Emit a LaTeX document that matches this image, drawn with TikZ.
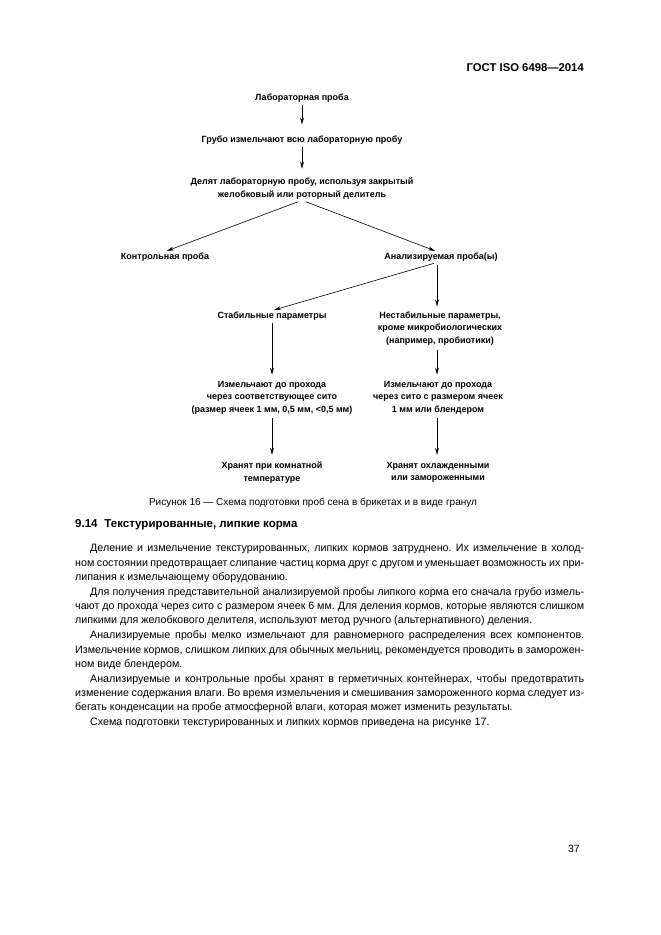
\documentclass[tikz,border=0pt]{standalone}
\usepackage{fontspec}
\setmainfont{Liberation Sans}
\usetikzlibrary{arrows.meta}
\frenchspacing
\begin{document}
\begin{tikzpicture}[x=1pt,y=-1pt,
  box/.style={font=\fontsize{9}{12.6}\selectfont\bfseries, align=center, inner sep=1pt},
  arr/.style={-{Stealth[length=7pt,width=3.8pt]}, line width=0.6pt},
  bodyline/.style={anchor=west, inner sep=0pt, font=\fontsize{10.7}{14}\selectfont, text height=8pt, text depth=2.5pt},
  hdr/.style={inner sep=0pt, font=\fontsize{11.3}{13}\selectfont\bfseries},
]
\useasboundingbox[fill=white] (0,0) rectangle (661,935);

% header
\node[hdr, anchor=east] (head) at (584,68) {ГОСТ ISO 6498—2014};

% diagram
\node[box] (lab) at (302,98) {Лабораторная проба};
\node[box] (grub) at (302,140) {Грубо измельчают всю лабораторную пробу};
\node[box] (delyat) at (302,188.5) {Делят лабораторную пробу, используя закрытый\\желобковый или роторный делитель};
\node[box] (kontr) at (165,257) {Контрольная проба};
\node[box] (anal) at (441,257) {Анализируемая проба(ы)};
\node[box] (stab) at (272,316) {Стабильные параметры};
\node[box] (nestab) at (440,328.5) {Нестабильные параметры,\\кроме микробиологических\\(например, пробиотики)};
\node[box] (izma) at (272,397.5) {Измельчают до прохода\\через соответствующее сито\\(размер ячеек 1 мм, 0,5 мм, <0,5 мм)};
\node[box] (izmb) at (438,397.5) {Измельчают до прохода\\через сито с размером ячеек\\1 мм или блендером};
\node[box] (hra) at (272,472.5) {Хранят при комнатной\\температуре};
\node[box] (hrb) at (438,472.5) {Хранят охлажденными\\или замороженными};

\draw[arr, shorten <=2pt, shorten >=10pt] (lab) -- (grub);
\draw[arr, shorten <=2pt, shorten >=8pt] (grub) -- (delyat);
\draw[arr, shorten <=4pt, shorten >=2pt] (delyat.south) -- (kontr.north);
\draw[arr, shorten <=4pt, shorten >=2pt] (delyat.south) -- ([xshift=-4pt]anal.north);
\draw[arr, shorten <=3pt, shorten >=2pt] ([xshift=-4pt]anal.south) -- (stab.north);
\draw[arr, shorten <=3pt, shorten >=4pt] ([xshift=-4pt]anal.south) -- ([xshift=-3pt]nestab.north);
\draw[arr, shorten <=2pt, shorten >=5pt] (stab) -- (izma);
\draw[arr, shorten <=3pt, shorten >=5pt] ([xshift=-3pt]nestab.south) -- ([xshift=-1pt]izmb.north);
\draw[arr, shorten <=3pt, shorten >=6pt] (izma) -- (hra);
\draw[arr, shorten <=3pt, shorten >=6pt] ([xshift=-1pt]izmb.south) -- ([xshift=-1pt]hrb.north);

% caption
\node[inner sep=0pt, font=\fontsize{10}{12}\selectfont] (cap) at (313,503) {Рисунок 16 — Схема подготовки проб сена в брикетах и в виде гранул};

% heading
\node[anchor=west, inner sep=0pt, font=\fontsize{11.5}{13}\selectfont\bfseries] (sec) at (75,525) {9.14\hspace{0.6em}Текстурированные, липкие корма};

% body text
\node[bodyline] (l1) at (90,549) {\hbox to 494pt{Деление и измельчение текстурированных, липких кормов затруднено. Их измельчение в холод-}};
\node[bodyline] (l2) at (75,564) {\hbox to 509pt{ном состоянии предотвращает слипание частиц корма друг с другом и уменьшает возможность их при-}};
\node[bodyline] (l3) at (75,578) {липания к измельчающему оборудованию.};
\node[bodyline] (l4) at (90,593) {\hbox to 494pt{Для получения представительной анализируемой пробы липкого корма его сначала грубо измель-}};
\node[bodyline] (l5) at (75,607) {\hbox to 509pt{чают до прохода через сито с размером ячеек 6 мм. Для деления кормов, которые являются слишком}};
\node[bodyline] (l6) at (75,621) {липкими для желобкового делителя, используют метод ручного (альтернативного) деления.};
\node[bodyline] (l7) at (90,636) {\hbox to 494pt{Анализируемые пробы мелко измельчают для равномерного распределения всех компонентов.}};
\node[bodyline] (l8) at (75,651) {\hbox to 509pt{Измельчение кормов, слишком липких для обычных мельниц, рекомендуется проводить в заморожен-}};
\node[bodyline] (l9) at (75,665) {ном виде блендером.};
\node[bodyline] (l10) at (90,680) {\hbox to 494pt{Анализируемые и контрольные пробы хранят в герметичных контейнерах, чтобы предотвратить}};
\node[bodyline] (l11) at (75,694) {\hbox to 509pt{изменение содержания влаги. Во время измельчения и смешивания замороженного корма следует из-}};
\node[bodyline] (l12) at (75,708) {бегать конденсации на пробе атмосферной влаги, которая может изменить результаты.};
\node[bodyline] (l13) at (90,723) {Схема подготовки текстурированных и липких кормов приведена на рисунке 17.};

% page number
\node[anchor=east, inner sep=0pt, font=\fontsize{10.5}{12}\selectfont] (pg) at (580,849) {37};
\end{tikzpicture}
\end{document}
